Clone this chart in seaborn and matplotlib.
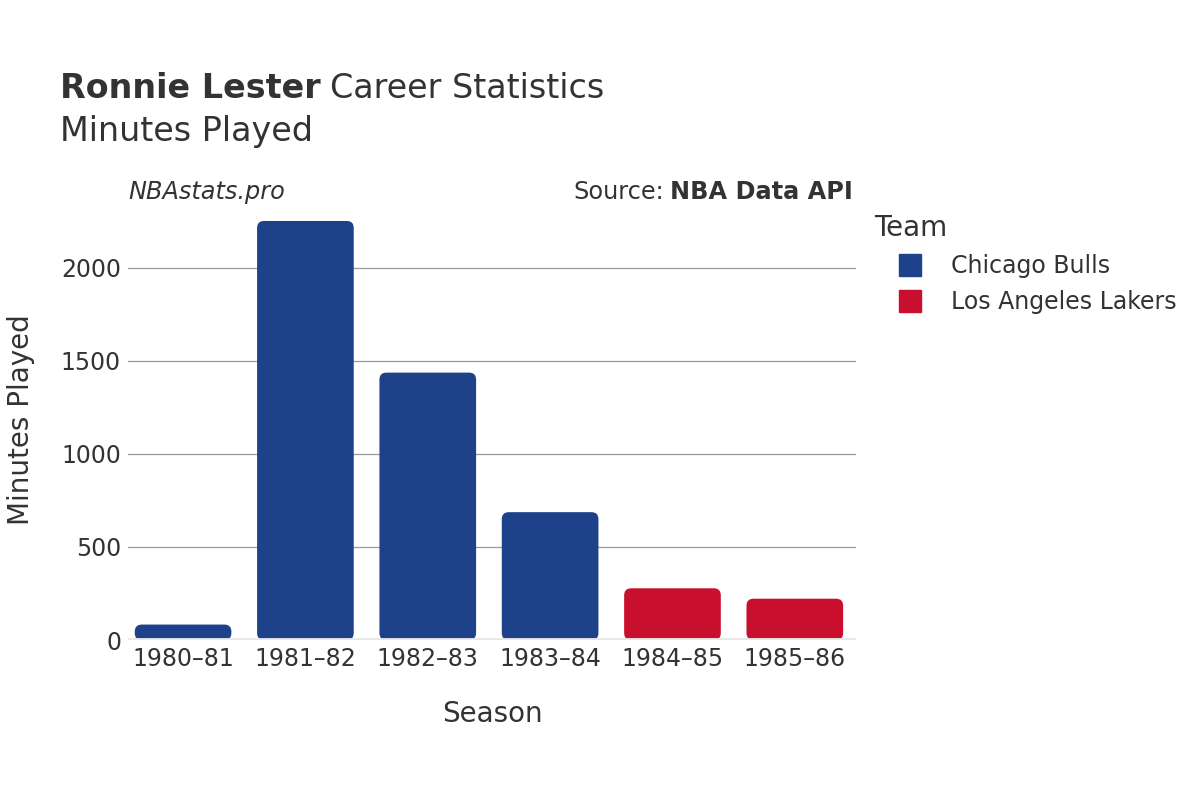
import pandas as pd
import matplotlib.pyplot as plt
import seaborn as sns
from matplotlib.patches import FancyBboxPatch
from matplotlib.lines import Line2D

# Data
seasons = ["1980\u201381", "1981\u201382", "1982\u201383", "1983\u201384", "1984\u201385", "1985\u201386"]
teams = ["Chicago Bulls", "Chicago Bulls", "Chicago Bulls", "Chicago Bulls",
         "Los Angeles Lakers", "Los Angeles Lakers"]
minutes = [83, 2252, 1437, 687, 278, 222]
team_colors = {"Chicago Bulls": "#1d428a", "Los Angeles Lakers": "#c8102e"}

df = pd.DataFrame({"Season": seasons, "Team": teams, "Minutes": minutes})

text_color = "#333333"
sns.set_style("white")
plt.rcParams["font.family"] = ["DejaVu Sans"]

fig = plt.figure(figsize=(12, 8), dpi=100)
ax = fig.add_axes([128 / 1200, 160 / 800, 728 / 1200, 441 / 800])

sns.barplot(data=df, x="Season", y="Minutes", hue="Team", palette=team_colors,
            dodge=False, width=0.79, saturation=1, ax=ax, legend=False)

ax.set_xlim(-0.45, 5.5)
ax.set_ylim(0, 2370)

# swap plain bars for rounded ones
x_per_px = 5.95 / 728
y_per_px = 2370 / 441
for p in list(ax.patches):
    x, w, h = p.get_x(), p.get_width(), p.get_height()
    if h <= 0:
        p.remove()
        continue
    fb = FancyBboxPatch((x, 0), w, h,
                        boxstyle="round,pad=0,rounding_size=%f" % (7 * x_per_px),
                        mutation_aspect=y_per_px / x_per_px,
                        facecolor=p.get_facecolor(), edgecolor="none", zorder=2)
    p.remove()
    ax.add_patch(fb)

ax.set_yticks([0, 500, 1000, 1500, 2000])
ax.yaxis.grid(True, color="#999999", linewidth=0.9)
ax.set_axisbelow(True)
ax.axhline(0, color="#e8e8e8", linewidth=3.5, zorder=3)
for s in ax.spines.values():
    s.set_visible(False)
ax.tick_params(axis="both", length=0, labelsize=17, colors=text_color, pad=5)

ax.set_xlabel("Season", fontsize=20, color=text_color, labelpad=21)
ax.set_ylabel("Minutes Played", fontsize=20, color=text_color, labelpad=19)

# Titles
t1 = fig.text(60 / 1200, 1 - 89 / 800, "Ronnie Lester", fontsize=24, fontweight="bold",
              color=text_color, va="center")
fig.canvas.draw()
bb = t1.get_window_extent()
fig.text(bb.x1 / 1200 + 0.008, 1 - 89 / 800, "Career Statistics", fontsize=24,
         color=text_color, va="center")
fig.text(60 / 1200, 1 - 132 / 800, "Minutes Played", fontsize=24,
         color=text_color, va="center")

fig.text(128 / 1200, 1 - 192 / 800, "NBAstats.pro", fontsize=17.3, style="italic",
         color=text_color, va="center")
s2 = fig.text(853 / 1200, 1 - 192 / 800, "NBA Data API", fontsize=17.3, fontweight="bold",
              color=text_color, va="center", ha="right")
fig.canvas.draw()
bb2 = s2.get_window_extent()
fig.text(bb2.x0 / 1200 - 0.005, 1 - 192 / 800, "Source:", fontsize=17.3,
         color=text_color, va="center", ha="right")

# Legend
handles = [Line2D([], [], marker="s", linestyle="none", markersize=16,
                  markerfacecolor=c, markeredgecolor=c) for c in team_colors.values()]
leg = fig.legend(handles, list(team_colors.keys()), title="Team", frameon=False,
                 loc="upper left", bbox_to_anchor=(865 / 1200, 1 - 205 / 800),
                 fontsize=17, title_fontsize=20, alignment="left",
                 handlelength=3.05, handletextpad=0.2, labelspacing=0.5,
                 borderaxespad=0)
for t in leg.get_texts():
    t.set_color(text_color)
leg.get_title().set_color(text_color)

fig.savefig("out.png", dpi=100)
